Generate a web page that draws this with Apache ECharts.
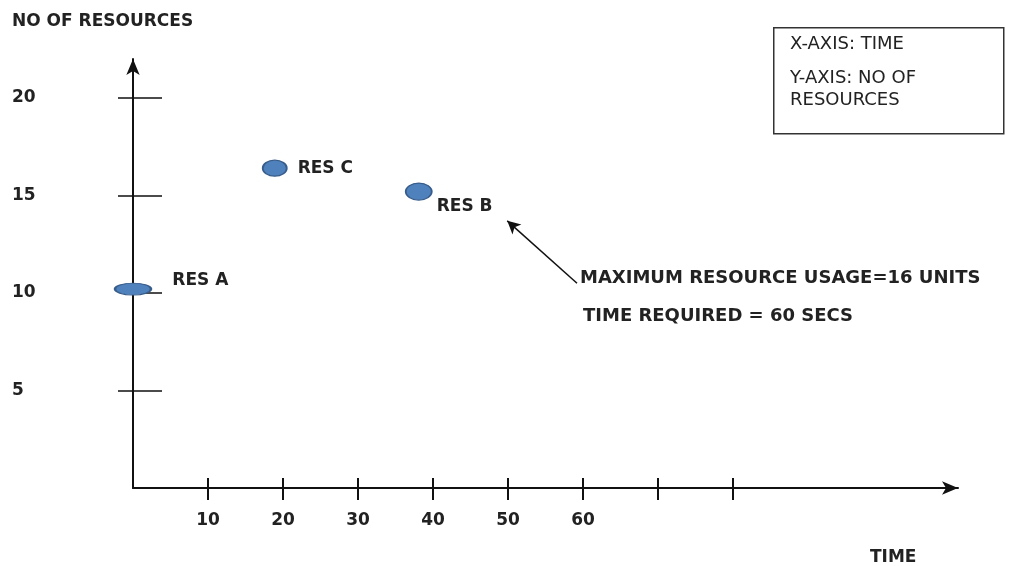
<!DOCTYPE html>
<html>
<head>
<meta charset="utf-8">
<script src="https://cdn.jsdelivr.net/npm/echarts@6/dist/echarts.min.js"></script>
<style>html,body{margin:0;padding:0;background:#fff;}#c{width:1019px;height:566px;}</style>
</head>
<body>
<div id="c"></div>
<script>
// ---- data ----
const resNames = ['RES A', 'RES C', 'RES B'];
const timeVals = [0, 18.9, 38.1];
const resVals = [10.2, 16.4, 15.2];
const yTickVals = [5, 10, 15, 20];
const xTickVals = [10, 20, 30, 40, 50, 60, 70, 80];
const xLabelVals = [10, 20, 30, 40, 50, 60];
const arrowFrom = [59.2, 10.5];
const arrowTo = [49.9, 13.7];
const noteLines = ['MAXIMUM RESOURCE USAGE=16 UNITS', 'TIME REQUIRED = 60 SECS'];
const boxLines = ['X-AXIS: TIME', 'Y-AXIS: NO OF', 'RESOURCES'];
const yName = 'NO OF RESOURCES';
const xName = 'TIME';

// ---- styling (not data) ----
const FONT = 'DejaVu Sans';
const TXT = '#222';
const pointLook = {
  'RES A': { size: [36, 12], label: { position: 'right', distance: 20, offset: [0, -9] } },
  'RES C': { size: [24, 16], label: { position: 'right', distance: 10, offset: [0, 0] } },
  'RES B': { size: [26, 17], label: { position: 'right', distance: 4, offset: [0, 15] } }
};

const points = resNames.map((n, i) => ({
  name: n,
  value: [timeVals[i], resVals[i]],
  symbolSize: pointLook[n].size,
  label: Object.assign({ show: true, formatter: n }, pointLook[n].label)
}));

const chart = echarts.init(document.getElementById('c'), null, { renderer: 'canvas' });
const boldText = { fontFamily: FONT, fontWeight: 'bold', fontSize: 17, color: TXT };
const bold = (px) => 'bold ' + px + 'px "' + FONT + '"';
const reg = (px) => px + 'px "' + FONT + '"';

chart.setOption({
  animation: false,
  backgroundColor: '#fff',
  grid: { left: 133, right: 61, top: 59, bottom: 78 },
  xAxis: [
    {
      type: 'value', min: 0, max: 110, position: 'bottom',
      axisLine: { show: true, onZero: false, symbol: ['none', 'arrow'], symbolSize: [10, 16],
        lineStyle: { color: '#111', width: 2 } },
      axisTick: { show: true, inside: true, length: 10, customValues: xTickVals,
        lineStyle: { color: '#111', width: 2 } },
      axisLabel: { show: true, customValues: xLabelVals, margin: 24, ...boldText },
      splitLine: { show: false }
    },
    {
      type: 'value', min: 0, max: 110, position: 'bottom', offset: 0,
      axisLine: { show: false, onZero: false },
      axisTick: { show: true, inside: false, length: 12, customValues: xTickVals,
        lineStyle: { color: '#111', width: 2 } },
      axisLabel: { show: false },
      splitLine: { show: false }
    }
  ],
  yAxis: [
    {
      type: 'value', min: 0, max: 22, position: 'left',
      axisLine: { show: true, onZero: false, symbol: ['none', 'arrow'], symbolSize: [10, 16],
        lineStyle: { color: '#111', width: 2 } },
      axisTick: { show: true, inside: true, length: 29, customValues: yTickVals,
        lineStyle: { color: '#111', width: 1.5 } },
      axisLabel: { show: true, customValues: yTickVals, margin: 121, align: 'left', ...boldText },
      splitLine: { show: false }
    },
    {
      type: 'value', min: 0, max: 22, position: 'left', offset: 0,
      axisLine: { show: false, onZero: false },
      axisTick: { show: true, inside: false, length: 15, customValues: [5, 15, 20],
        lineStyle: { color: '#111', width: 1.5 } },
      axisLabel: { show: false },
      splitLine: { show: false }
    }
  ],
  series: [
    {
      type: 'scatter',
      xAxisIndex: 0, yAxisIndex: 0,
      clip: false,
      symbol: 'circle',
      itemStyle: { color: '#4F81BD', borderColor: '#385D8A', borderWidth: 1.5, opacity: 1 },
      label: { ...boldText },
      data: points,
      markLine: {
        silent: true,
        symbol: ['none', 'arrow'],
        symbolSize: [10, 13],
        label: { show: false },
        lineStyle: { color: '#111', width: 1.5, type: 'solid' },
        data: [[{ coord: arrowFrom }, { coord: arrowTo }]]
      }
    }
  ],
  graphic: [
    { type: 'text', left: 12, top: 13, style: { text: yName, font: bold(17), fill: TXT } },
    { type: 'text', left: 870, top: 549, style: { text: xName, font: bold(17), fill: TXT } },
    { type: 'text', left: 580, top: 269, style: { text: noteLines[0], font: bold(18), fill: TXT } },
    { type: 'text', left: 583, top: 307, style: { text: noteLines[1], font: bold(18), fill: TXT } },
    { type: 'rect', left: 773, top: 27, shape: { width: 230, height: 106 },
      style: { fill: '#fff', stroke: '#333', lineWidth: 1.5 } },
    { type: 'text', left: 790, top: 35, style: { text: boxLines[0], font: reg(18), fill: TXT } },
    { type: 'text', left: 790, top: 69, style: { text: boxLines[1], font: reg(18), fill: TXT } },
    { type: 'text', left: 790, top: 91, style: { text: boxLines[2], font: reg(18), fill: TXT } }
  ]
});
</script>
</body>
</html>
